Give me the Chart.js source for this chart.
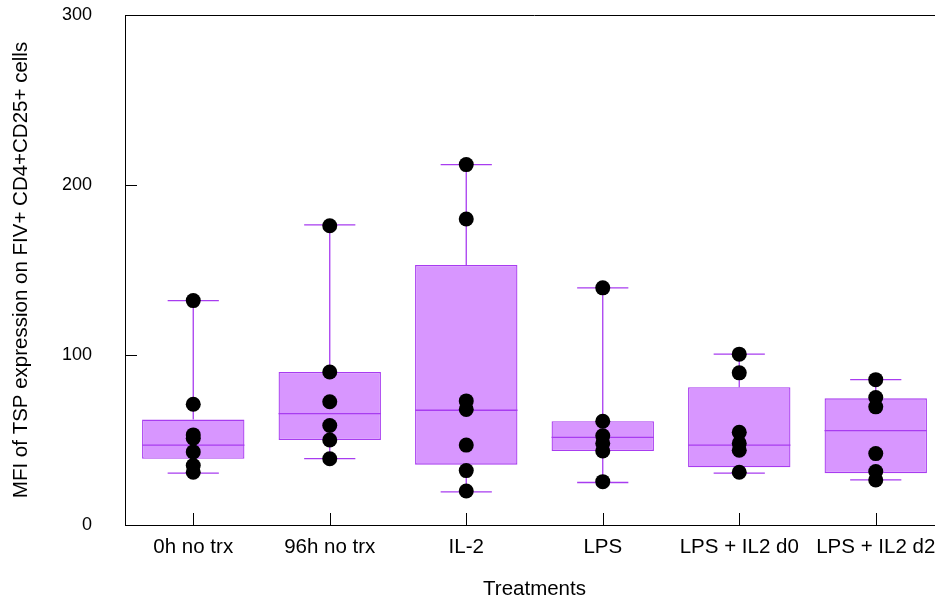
<!DOCTYPE html>
<html>
<head>
<meta charset="utf-8">
<script src="https://cdn.jsdelivr.net/npm/chart.js@4/dist/chart.umd.min.js"></script>
<style>
  html, body { margin: 0; padding: 0; background: #fff; overflow: hidden; }
  #wrap { width: 935px; height: 606px; overflow: hidden; position: relative; }
  canvas { display: block; }
</style>
</head>
<body>
<div id="wrap"><canvas id="c" width="960" height="606"></canvas></div>
<script>
const categories = ['0h no trx', '96h no trx', 'IL-2', 'LPS', 'LPS + IL2 d0', 'LPS + IL2 d2'];
const q1Values = [39, 50, 35.5, 43.5, 34, 30.5];
const medianValues = [47, 65.5, 67.5, 51.5, 47, 55.5];
const q3Values = [62, 90, 153, 61, 81, 74.5];
const whiskerLow = [30.5, 39, 19.5, 25, 30.5, 26.5];
const whiskerHigh = [132, 176.5, 212, 139.5, 100.5, 85.5];
const pts0h = [132, 71, 53, 51, 43, 35, 31];
const pts96h = [176, 90, 72.5, 58.5, 50, 39];
const ptsIL2 = [212, 180, 73, 68, 47, 32, 20];
const ptsLPS = [139.5, 61, 52.5, 48, 43.5, 25.5];
const ptsLPSIL2d0 = [100.5, 89.5, 54.5, 48, 44, 31];
const ptsLPSIL2d2 = [85.5, 75, 69.5, 42, 31.5, 26.5];
const yTicks = [0, 100, 200, 300];

const pointGroups = [pts0h, pts96h, ptsIL2, ptsLPS, ptsLPSIL2d0, ptsLPSIL2d2];
const scatterData = [];
pointGroups.forEach((g, i) => g.forEach(v => scatterData.push({x: categories[i], y: v})));

const FILL = '#d896ff';
const LINE = '#a83cf0';
const FONT = "'Liberation Sans', Arial, sans-serif";

const boxPlugin = {
  id: 'boxExtras',
  afterDatasetDraw(chart, args) {
    if (args.index !== 0) return;
    const ctx = chart.ctx;
    const y = chart.scales.y;
    const meta = chart.getDatasetMeta(0);
    ctx.save();
    ctx.strokeStyle = LINE;
    ctx.lineWidth = 1.3;
    meta.data.forEach((bar, i) => {
      const cx = bar.x;
      const half = bar.width / 2;
      const capHalf = bar.width / 4;
      const yMed = y.getPixelForValue(medianValues[i]);
      const yQ1 = y.getPixelForValue(q1Values[i]);
      const yQ3 = y.getPixelForValue(q3Values[i]);
      const yLo = y.getPixelForValue(whiskerLow[i]);
      const yHi = y.getPixelForValue(whiskerHigh[i]);
      ctx.beginPath();
      ctx.moveTo(cx - half, yMed); ctx.lineTo(cx + half, yMed);
      ctx.moveTo(cx, yQ3); ctx.lineTo(cx, yHi);
      ctx.moveTo(cx, yQ1); ctx.lineTo(cx, yLo);
      ctx.moveTo(cx - capHalf, yHi); ctx.lineTo(cx + capHalf, yHi);
      ctx.moveTo(cx - capHalf, yLo); ctx.lineTo(cx + capHalf, yLo);
      ctx.stroke();
    });
    ctx.restore();
  },
  afterDraw(chart) {
    const ctx = chart.ctx;
    const {x, y} = chart.scales;
    const area = chart.chartArea;
    ctx.save();
    ctx.strokeStyle = '#000';
    ctx.lineWidth = 1;
    ctx.beginPath();
    const yTop = Math.round(y.getPixelForValue(300)) + 0.5;
    ctx.moveTo(area.left, yTop); ctx.lineTo(area.right, yTop);
    [100, 200].forEach(v => {
      const py = Math.round(y.getPixelForValue(v)) + 0.5;
      ctx.moveTo(area.left, py); ctx.lineTo(area.left + 12, py);
    });
    categories.forEach((c, i) => {
      const px = Math.round(x.getPixelForValue(i)) + 0.5;
      ctx.moveTo(px, area.bottom); ctx.lineTo(px, area.bottom - 12);
    });
    ctx.stroke();
    ctx.restore();
  }
};

new Chart(document.getElementById('c'), {
  type: 'bar',
  data: {
    labels: categories,
    datasets: [
      {
        type: 'bar',
        data: q1Values.map((v, i) => [v, q3Values[i]]),
        backgroundColor: FILL,
        borderColor: LINE,
        borderWidth: 1.3,
        borderSkipped: false,
        barPercentage: 0.75,
        categoryPercentage: 1,
        order: 2
      },
      {
        type: 'line',
        data: scatterData,
        showLine: false,
        pointRadius: 7.5,
        pointHoverRadius: 7.5,
        pointBackgroundColor: '#000',
        pointBorderWidth: 0,
        order: 1
      }
    ]
  },
  options: {
    responsive: false,
    animation: false,
    events: [],
    layout: { autoPadding: false, padding: { left: 0, top: 15, right: 16, bottom: 0 } },
    plugins: { legend: { display: false }, tooltip: { enabled: false } },
    scales: {
      x: {
        type: 'category',
        offset: true,
        grid: { display: false, drawTicks: false },
        border: { display: true, color: '#000', width: 1 },
        ticks: { color: '#000', padding: 10, font: { family: FONT, size: 20.5 }, maxRotation: 0, autoSkip: false },
        title: { display: true, text: 'Treatments', color: '#000', font: { family: FONT, size: 20.5 }, padding: { top: 4, bottom: 4 } },
        afterFit(s) { s.height = 81; s.paddingLeft = 0; s.paddingRight = 0; }
      },
      y: {
        min: 0, max: 300,
        afterBuildTicks(s) { s.ticks = yTicks.map(v => ({ value: v })); },
        grid: { display: false, drawTicks: false },
        border: { display: true, color: '#000', width: 1 },
        ticks: { color: '#000', padding: 33, font: { family: FONT, size: 18 } },
        title: { display: true, text: 'MFI of TSP expression on FIV+ CD4+CD25+ cells', color: '#000', font: { family: FONT, size: 20.5 }, padding: { top: 9, bottom: 0 } },
        afterFit(s) { s.width = 125; s.paddingTop = 0; s.paddingBottom = 0; }
      }
    }
  },
  plugins: [boxPlugin]
});
</script>
</body>
</html>
